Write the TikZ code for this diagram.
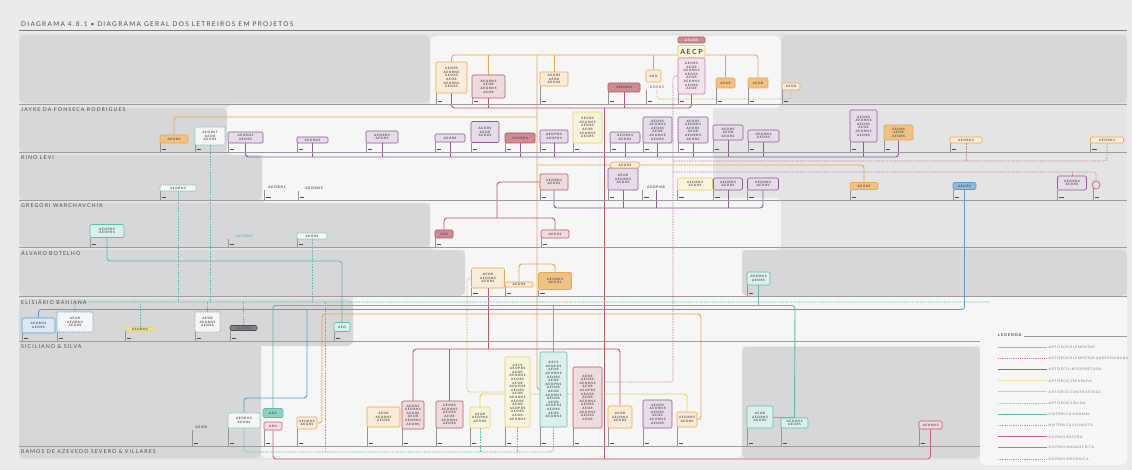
\documentclass[tikz,border=0pt]{standalone}
\usepackage{fontspec}
\setmainfont{Lato}
\newfontfamily\spaced[LetterSpace=20]{Lato}
\newfontfamily\lettr[LetterSpace=22]{Lato}
\usepackage{tikz}
\usetikzlibrary{positioning}
\definecolor{page}{HTML}{EBEBEB}
\definecolor{mid}{HTML}{E4E4E5}
\definecolor{pale}{HTML}{F6F6F6}
\definecolor{panel}{HTML}{D7D7D9}
\definecolor{rule}{HTML}{9C9C9E}
\definecolor{ink}{HTML}{4E4E52}
\definecolor{orng}{HTML}{E8A850}
\definecolor{mrn}{HTML}{B85A66}
\definecolor{purp}{HTML}{8C5C98}
\definecolor{pnk}{HTML}{C77CA8}
\definecolor{teal}{HTML}{5CBDA9}
\definecolor{blu}{HTML}{5D9BCB}
\definecolor{ylw}{HTML}{E4D260}
\definecolor{lylw}{HTML}{EEE39A}
\definecolor{tan}{HTML}{D6B36E}
\definecolor{rd}{HTML}{CF5F78}
\definecolor{gryd}{HTML}{A2A2A4}
\pgfdeclarelayer{bg}
\pgfdeclarelayer{rails}
\pgfsetlayers{bg,rails,main}

% rows of sample letters in the stacked letreiros
\newcommand\stkA{AEORS\\AEORNS\\AEORS\\AEOR\\AEORNS\\AEORS}
\newcommand\stkB{AEORNS\\AEOR\\AEORNS\\AEOR}
\newcommand\stkC{AEORS\\AEOR\\AEORS}
\newcommand\stkD{AEORS\\AEOR\\AEORNS\\AEORS\\AEOR\\AEORNS\\AEORS\\AEOR}
\newcommand\stkE{AEORST\\AEOR\\AEORS}
\newcommand\stkF{AEORNS\\AEORS}
\newcommand\stkG{AEOPNS\\AEOPRS}
\newcommand\stkH{AEOR\\AEORNS\\AEORS}
\newcommand\stkL{AECS\\AEOPRS\\AEOR\\AEORNS\\AEORS\\AEOR\\AEOPNS\\AEORS\\AEOR\\AEORNS\\AEORS\\AEOR\\AEOPRS\\AEORS\\AEOR\\AEORNS}
\newcommand\stkM{AEOR\\AEORS\\AEORNS\\AEOR\\AEOPRS\\AEORS\\AEOR\\AEORNS\\AEORS\\AEOR\\AEOPNS\\AEORS\\AEOR}

\begin{document}
\begin{tikzpicture}[
  x=1pt, y=-1pt,
  lt/.style={draw=#1, fill=#1!22!white, rounded corners=1.2pt, line width=0.6pt, inner sep=0.4pt, align=center, text=ink, font=\lettr\bfseries\fontsize{3.1}{3.6}\selectfont},
  ltd/.style={lt=#1, fill=pale, dash pattern=on 1pt off 0.8pt},
  ltf/.style={lt=#1, fill=#1!70!white},
  ltc/.style={lt=#1, circle},
  txt/.style={inner sep=0.4pt, text=#1, font=\lettr\bfseries\fontsize{3.4}{4}\selectfont},
  con/.style={draw=#1, line width=0.9pt, rounded corners=3pt},
  cond/.style={con=#1, line width=0.7pt, dash pattern=on 1.6pt off 1.1pt},
  ldash/.style={dash pattern=on 1.2pt off 1pt},
  tick/.style={draw=ink!60, line width=0.3pt},
  yr/.style={draw=ink, line width=0.9pt},
  band/.style={draw=rule, line width=0.5pt},
  lbl/.style={anchor=west, inner sep=0pt, text=ink, font=\spaced\fontsize{5.3}{6}\selectfont},
  lgt/.style={inner sep=0pt, text=ink!80, font=\spaced\fontsize{3.3}{4}\selectfont}
]
\useasboundingbox (0,0) rectangle (1132,470);

\begin{pgfonlayer}{bg}
\fill[page] (0,0) rectangle (1132,470);
\fill[mid] (19,33) rectangle (1127,460);
\foreach \xa/\ya/\xb/\yb in {430/36/781/108, 227/104/713/155, 262/150/713/203, 430/198/781/250, 465/245/742/299, 353/294/1127/346, 261/340/742/458, 980/300/1127/465}
  \fill[pale, rounded corners=6pt] (\xa,\ya) rectangle (\xb,\yb);
\foreach \xa/\ya/\xb/\yb in {19/35/430/103, 781/35/1127/103, 19/108/227/152, 19/155/262/200, 19/203/430/247, 19/250/465/296, 742/250/1127/296, 19/299/353/346, 19/342/261/458, 742/347/980/458}
  \fill[panel, rounded corners=6pt] (\xa,\ya) rectangle (\xb,\yb);
\end{pgfonlayer}

\node[anchor=west, inner sep=0pt, text=ink, font=\spaced\fontsize{6.5}{7}\selectfont] (title) at (21,24.5) {DIAGRAMA 4.8.1 • DIAGRAMA GERAL DOS LETREIROS EM PROJETOS};
\draw[draw=ink!75, line width=0.7pt] (19,30.8) -- (1127,30.8);

\foreach \yy/\xe/\nm in {104/1127/JAYRE DA FONSECA RODRIGUES, 152/1127/RINO LEVI, 200/1127/GREGORI WARCHAVCHIK, 247/1127/ÁLVARO BOTELHO, 296/1127/ELISIÁRIO BAHIANA, 341/980/SICILIANO \& SILVA, 446/980/RAMOS DE AZEVEDO SEVERO \& VILLARES}
{
  \draw[band] (19,\yy) -- (\xe,\yy);
  \node[lbl] (lb\yy) at (21,\yy+6) {\nm};
}

% letreiros: name/x/y/width/height/style/colour/letters/band line
\foreach \nm/\x/\y/\w/\h/\st/\cl/\tx/\bl in {
  t1/451.5/77.5/31/31/lt/orng/\stkA/104, t2/488.5/86.5/33/23/lt/mrn/\stkB/104,
  t3/554/79/28/14/lt/orng/\stkC/104, t4/624/87.5/32/9/ltf/mrn/AEORNS/104,
  t5b/657/87/22/6/txt/purp/AEORS/104, t6c/691.5/76/27/36/lt/pnk/\stkD/104,
  t7/725.5/83/19/10/ltf/orng/AEOR/104, t8/758/83/20/10/ltf/orng/AEOR/104,
  t9/791/86.5/18/7/lt/orng/AEOR/104,
  j1/174/139/28/8/ltf/orng/AEORS/152, j2/210/136/30/18/ltd/teal/\stkE/152,
  j3/245.5/137.5/35/11/lt/purp/\stkF/152, j4/312.5/140/31/6/lt/purp/AEORNS/152,
  j5/382/137/32/12/lt/purp/\stkF/152, j6/450/138/30/8/lt/purp/AEORS/152,
  j7/485/132/28/21/lt/purp/\stkC/152, j8/520/138/30/10/ltf/mrn/AEORNS/152,
  j9/554/136.5/28/13/lt/purp/\stkG/152, j10/587.5/127.5/29/31/lt/ylw/\stkA/152,
  j11/625/137.5/30/11/lt/purp/\stkF/152, j12/657.5/130/29/26/lt/purp/\stkA/152,
  j13/693/130/30/26/lt/purp/\stkA/152, j14/728/132.5/30/15/lt/purp/\stkC/152,
  j15/763.5/136/31/12/lt/purp/\stkF/152, j16/863.5/126/27/32/lt/purp/\stkA/152,
  j17/898.5/132.5/29/15/ltf/orng/\stkC/152, j18/966/140/32/6/lt/orng/AEORNS/152,
  j19/1107/140/33/6/lt/orng/AEORNS/152,
  r1/178/188/36/6/ltd/teal/AEORNS/200, r2/277/187/25/6/txt/ink/AEOBNS/200,
  r3/314/188/32/6/txt/ink/AEORNS/200, r4/554/182/28/16/lt/mrn/\stkF/200,
  r5/623/179/30/22/lt/purp/\stkH/200, r6/656/187/27/6/txt/ink/AEOPNB/200,
  r7/695/184/35/12/lt/ylw/\stkF/200, r8/728/184/29/12/lt/purp/\stkF/200,
  r9/763/184/31/12/lt/purp/\stkF/200, r10/864/186/28/7/ltf/orng/AEORS/200,
  r11/964.5/186/23/7/ltf/blu/AEORS/200, r12/1072/183/29/14/lt/purp/\stkF/200,
  r13/1096/185/8/8/ltc/mrn/\relax/200,
  g1/107/231/34/13/lt/teal/\stkG/247, g2/244/236/32/6/txt/teal/AEORNS/247,
  g3/312/236/30/6/ltd/teal/AEORS/247, g4/444/234/18/8/ltf/mrn/AEO/247,
  g5/555/234/28/8/lt/mrn/AEORS/247,
  a1/488/278/33/20/lt/orng/\stkH/296, a2/519/284.5/28/5/lt/orng/AEORS/296,
  a3/555/281/33/17/ltf/orng/\stkF/296, a4/758.5/278.5/23/13/lt/teal/\stkF/296,
  e1/38.5/325.5/33/15/lt/blu/\stkF/341, e2/75/322/36/20/ltd/blu/\stkH/341,
  e3/140/329/30/4/ltf/ylw/AEORNS/341, e4/207.5/322/25/20/ltd/gryd/\stkH/341,
  e5/243.5/328/27/5/ltf/ink/AEORNS/341, e6/342/327/16/9/lt/teal/AEO/341,
  s0/201/427/18/5/txt/ink/AEOR/446, s1/244/420.5/32/15/ltd/teal/\stkF/446,
  s2b/273/426/18/8/lt/rd/AEO/446, s3/307/423/20/12/lt/orng/\stkF/446,
  s4/383.5/417/33/20/lt/orng/\stkH/446, s5/413/415/22/28/lt/mrn/\stkA/446,
  s6/449.5/414.5/27/27/lt/mrn/\stkA/446, s7/480/417.5/20/21/lt/ylw/\stkH/446,
  s8/517.5/392/25/70/lt/ylw/\stkL/446, s9/553.5/389.5/27/75/lt/teal/\stkL/446,
  s10/587.5/397.5/29/61/lt/mrn/\stkM/446, s11/620/417/24/22/lt/orng/\stkH/446,
  s12/657.5/414/29/28/lt/purp/\stkA/446, s13/687/419.5/20/15/lt/orng/\stkF/446,
  s14/760/417/26/22/lt/teal/\stkH/446, s15/794.5/423/27/10/lt/teal/\stkF/446,
  s16/930.5/425/23/8/lt/mrn/AEORNS/446}
{
  \node[\st=\cl, minimum width=\w pt, minimum height=\h pt] (\nm) at (\x,\y) {\tx};
  \coordinate (B) at (0,\bl);
  \draw[tick] (\nm.south west) -- (\nm.south west |- B);
  \draw[yr] (\nm.south west |- B) ++(1.8,-2.4) -- ++(4.5,0);
}

% tops of the stacks
\node[lt=orng, minimum width=15pt, minimum height=12pt] (t5) at (653.5,76) {AEO};
\node[ltf=mrn, text=white, minimum width=27pt, minimum height=6pt] (t6a) at (691.5,40) {AEORS};
\node[lt=ylw, minimum width=27pt, minimum height=12pt, font=\lettr\bfseries\fontsize{7}{7}\selectfont] (t6b) at (691.5,51.5) {AECP};
\node[lt=orng, rounded corners=3pt, minimum width=30pt, minimum height=6pt] (r0) at (625,165) {AEORS};
\node[ltf=teal, minimum width=20pt, minimum height=9pt] (s2) at (273,413) {AEO};

% rail heights and trunks
\coordinate (oTop) at (0,55);
\coordinate (dTop) at (0,99);
\coordinate (mTop) at (0,108);
\coordinate (oJay) at (0,117);
\coordinate (pJay) at (0,157);
\coordinate (dJay) at (0,161);
\coordinate (oRino) at (0,165);
\coordinate (dRino) at (0,172);
\coordinate (pRino) at (0,208);
\coordinate (mGreg) at (0,218);
\coordinate (tGreg) at (0,261);
\coordinate (oBot) at (0,264);
\coordinate (dEli) at (0,302);
\coordinate (tEli) at (0,305.5);
\coordinate (bEli) at (0,309.5);
\coordinate (oEli) at (0,314);
\coordinate (mSic) at (0,349);
\coordinate (pSic) at (0,382);
\coordinate (yRam) at (0,394);
\coordinate (bRam) at (0,398);
\coordinate (dRam) at (0,452);
\coordinate (rRam) at (0,459);
\coordinate (vO) at (537,0);
\coordinate (vM) at (604,0);
\coordinate (vP) at (673,0);
\coordinate (kG) at (497,0);
\coordinate (kS) at (322,0);
\coordinate (kE) at (701,0);
\coordinate (kB) at (307,0);
\coordinate (kT) at (795,0);
\coordinate (kD) at (990,0);
\coordinate (kC) at (325,0);
\coordinate (kY) at (467,0);

\begin{pgfonlayer}{rails}
% art deco lines
\draw[con=orng] (t1.north) |- (t8.north |- oTop) -- (t8.north);
\foreach \nm in {t2,t3,t5,t7} \draw[con=orng] (\nm.north) -- (\nm.north |- oTop);
\draw[con=orng] (vO |- oTop) |- (s9.west);
\draw[con=orng] (j1.north) |- (vO |- oJay);
\draw[con=orng] (vO |- oRino) -| (r10.north);
\draw[con=orng] (a2.north) |- (a3.north |- oBot) -- (a3.north);
\draw[con=orng] (s3.east) -| (kS |- oEli) -| (kE |- s13.east) -- (s13.east);
\draw[con=mrn] (t1.south) |- (t6c.south |- mTop) -- (t6c.south);
\foreach \nm in {t2,t4} \draw[con=mrn] (\nm.south) -- (\nm.south |- mTop);
\draw[con=mrn] (vM |- mTop) -- (vM |- rRam);
\draw[con=mrn] (r4.west) -| (kG |- mGreg);
\draw[con=mrn] (g4.north) |- (g5.north |- mGreg) -- (g5.north);
\draw[con=mrn] (s5.north) |- (s11.north |- mSic) -- (s11.north);
\draw[con=mrn] (s6.north) -- (s6.north |- mSic);
\draw[con=mrn] (a1.south) -- (a1.south |- mSic);
\draw[con=purp] (j3.south) |- (j17.south |- pJay) -- (j17.south);
\foreach \nm in {j4,j5,j6,j8,j9,j11,j12,j13,j14,j15,j16} \draw[con=purp] (\nm.south) -- (\nm.south |- pJay);
\draw[con=purp] (r4.south) |- (r9.south |- pRino) -- (r9.south);
\foreach \nm in {r5,r6,r8} \draw[con=purp] (\nm.south) -- (\nm.south |- pRino);
\draw[cond=pnk] (t6c.west) -| (vP |- pSic) -- (s10.east |- pSic);
\draw[cond=pnk] (vP |- dJay) -| (j19.south);
\draw[cond=pnk] (j18.south) -- (j18.south |- dJay);
\draw[cond=pnk] (vP |- dRino) -| (r13.north);
\draw[cond=pnk] (r12.north) -- (r12.north |- dRino);
\draw[con=ylw] (s7.north) |- (s13.north |- yRam) -- (s13.north);
\draw[cond=tan] (a1.west) -| (kY |- s8.west) -- (s8.west);
\draw[cond=tan] (t5b.south) |- (t9.south |- dTop) -- (t9.south);
% historic lines
\draw[con=teal] (g1.south) |- (e6.north |- tGreg) -- (e6.north);
\draw[con=teal] (s2.north) |- (kT |- tEli) -- (s15.north);
\draw[con=teal] (a4.south) -- (a4.south |- tEli);
\draw[con=teal] (s9.north) -- (s9.north |- tEli);
\draw[con=teal] (s14.east) -- (s14.east -| kT);
\draw[cond=teal] (e2.north) |- (kD |- dEli);
\foreach \nm in {e3,e4,e5} \draw[cond=teal] (\nm.north) -- (\nm.north |- dEli);
\foreach \nm in {r1,g3,j2} \draw[cond=teal] (\nm.south) -- (\nm.south |- dEli);
\draw[cond=teal] (kC |- dEli) -- (kC |- dRam);
\draw[cond=teal] (s1.south) |- (s9.south |- dRam) -- (s9.south);
\foreach \nm in {s7,s8} \draw[cond=teal] (\nm.south) -- (\nm.south |- dRam);
% other lines
\draw[con=blu] (e1.north) |- (r11.south |- bEli) -- (r11.south);
\draw[con=blu] (s1.north) |- (kB |- bRam) -- (kB |- bEli);
\draw[con=rd] (s2b.south) |- (s16.south |- rRam) -- (s16.south);
\end{pgfonlayer}

% legend
\node[anchor=west, inner sep=0pt, text=ink, font=\spaced\bfseries\fontsize{4}{4.5}\selectfont] (leg) at (998,335) {LEGENDA};
\coordinate (legEnd) at (1127,0);
\draw[band] ([xshift=2pt]leg.south east) -- (leg.south east -| legEnd);
\foreach \i/\cl/\ds/\tx in {0/orng/solid/ART DÉCO ELEMENTAR, 1/pnk/ldash/ART DÉCO ELEMENTAR ARREDONDADA, 2/mrn/solid/ART DÉCO INTERPRETADA, 3/lylw/solid/ART DÉCO SEPARADA, 4/ylw/solid/ART DÉCO CONTRASTADA, 5/tan/ldash/ART DÉCO SÓLIDA, 6/teal/solid/HISTÓRICA NORMAL, 7/teal/ldash/HISTÓRICA SILHUETA, 8/rd/solid/OUTRAS BASTÃO, 9/blu/solid/OUTRAS MANUSCRITA, 10/gryd/ldash/OUTRAS MECÂNICA}
{
  \coordinate (ls\i) at (998,347+11.2*\i);
  \coordinate (le\i) at (1047,347+11.2*\i);
  \draw[draw=\cl, line width=0.8pt, \ds] (ls\i) -- (le\i);
  \node[lgt, right=1.5pt of le\i] (lg\i) {\tx};
}
\end{tikzpicture}
\end{document}
